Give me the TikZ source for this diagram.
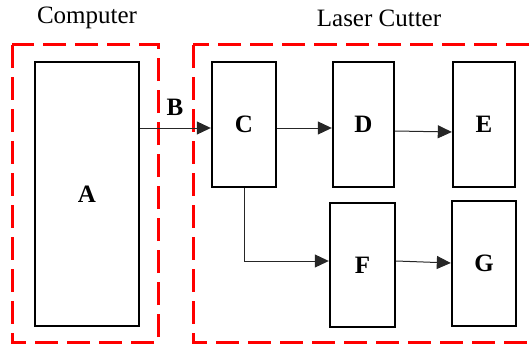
\documentclass[tikz,border=0pt]{standalone}
\usepackage{fontspec}
\setmainfont{Liberation Serif}
\usetikzlibrary{arrows.meta}
\begin{document}
\begin{tikzpicture}[x=1pt,y=-1pt,
  blk/.style={draw=black,line width=2.4pt,inner sep=0pt,font=\fontsize{25}{30}\selectfont\bfseries},
  grp/.style={draw=red,line width=3pt,dash pattern=on 23pt off 9pt},
  arr/.style={draw=black!85,line width=1pt,-{Triangle[length=14pt,width=13pt]}},
  lbl/.style={font=\fontsize{25}{30}\selectfont}]
\useasboundingbox (0,0) rectangle (532,345);
\clip (0,0) rectangle (532,345);
\draw[grp] (12,45) rectangle (158,342);
\draw[grp] (193,45) rectangle (560,342);
\node[lbl] (comp) at (87,18) {Computer};
\node[lbl] (laser) at (379,18) {Laser Cutter};
\node[blk,minimum width=104pt,minimum height=264pt] (A) at (87,194) {A};
\node[blk,minimum width=64pt,minimum height=125pt] (C) at (244,124.5) {C};
\node[blk,minimum width=61pt,minimum height=125pt] (D) at (363.5,124.5) {D};
\node[blk,minimum width=62pt,minimum height=125pt] (E) at (484,124.5) {E};
\node[blk,minimum width=65pt,minimum height=124pt] (F) at (362.5,265) {F};
\node[blk,minimum width=64pt,minimum height=125pt] (G) at (484,263.5) {G};
\node[font=\fontsize{25}{30}\selectfont\bfseries] (B) at (175,107) {B};
\coordinate (Cin) at ([yshift=-3.5pt]C.west);
\draw[arr] (A.east |- Cin) -- (Cin);
\draw[arr] ([yshift=-3.5pt]C.east) -- ([yshift=-3.5pt]D.west);
\draw[arr] ([yshift=-6.5pt]D.east) -- ([yshift=-7.5pt]E.west);
\draw[arr] (C.south) |- ([yshift=4pt]F.west);
\draw[arr] ([yshift=4pt]F.east) -- ([yshift=0.5pt]G.west);
\end{tikzpicture}
\end{document}
